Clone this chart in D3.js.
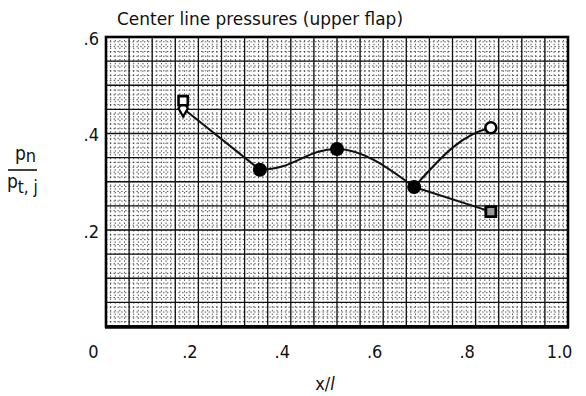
<!DOCTYPE html>
<html>
<head>
<meta charset="utf-8">
<script src="https://cdn.jsdelivr.net/npm/d3@7"></script>
<style>
  html, body { margin: 0; padding: 0; background: #fff; }
  svg { display: block; }
  text { font-family: "Liberation Sans Narrow", "DejaVu Sans Condensed", "Roboto Condensed", "DejaVu Sans", sans-serif; fill: #111; }
</style>
</head>
<body>
<svg id="chart" width="586" height="396"></svg>
<script>
// Stations along the flap centre line (x/l)
const stations = [0.167, 0.333, 0.5, 0.667, 0.833];
// Pressure ratio p_n / p_t,j for the two test conditions
const circleSeries = [0.452, 0.325, 0.368, 0.289, 0.412];
const squareSeries = [0.468, 0.325, 0.368, 0.289, 0.238];
// Axis ticks
const xTicks = [0, 0.2, 0.4, 0.6, 0.8, 1.0];
const xTickLabels = ["0", ".2", ".4", ".6", ".8", "1.0"];
const yTicks = [0.2, 0.4, 0.6];
const yTickLabels = [".2", ".4", ".6"];

const svg = d3.select("#chart");
const x = d3.scaleLinear().domain([0, 1]).range([106, 568]);
const y = d3.scaleLinear().domain([0, 0.6]).range([326.5, 37]);

// Graph-paper background: fine dotted rulings, then solid major rulings
const grid = svg.append("g");
const minorX = d3.range(0, 101).map(i => i / 100);
const minorY = d3.range(0, 61).map(i => i / 100);
grid.selectAll("line.mx").data(minorX).join("line")
  .attr("x1", d => x(d)).attr("x2", d => x(d))
  .attr("y1", y(0)).attr("y2", y(0.6))
  .attr("stroke", "#111").attr("stroke-width", 1)
  .attr("stroke-dasharray", "1.5 2.3").attr("opacity", 0.7);
grid.selectAll("line.my").data(minorY).join("line")
  .attr("y1", d => y(d)).attr("y2", d => y(d))
  .attr("x1", x(0)).attr("x2", x(1))
  .attr("stroke", "#111").attr("stroke-width", 1)
  .attr("stroke-dasharray", "1.5 2.3").attr("opacity", 0.7);

const majorX = d3.range(0, 21).map(i => i * 0.05);
const majorY = d3.range(0, 13).map(i => i * 0.05);
grid.selectAll("line.MX").data(majorX).join("line")
  .attr("x1", d => x(d)).attr("x2", d => x(d))
  .attr("y1", y(0)).attr("y2", y(0.6))
  .attr("stroke", "#111").attr("stroke-width", 1.3);
grid.selectAll("line.MY").data(majorY).join("line")
  .attr("y1", d => y(d)).attr("y2", d => y(d))
  .attr("x1", x(0)).attr("x2", x(1))
  .attr("stroke", "#111").attr("stroke-width", 1.3);

// Frame
svg.append("rect")
  .attr("x", x(0)).attr("y", y(0.6))
  .attr("width", x(1) - x(0)).attr("height", y(0) - y(0.6))
  .attr("fill", "none").attr("stroke", "#000").attr("stroke-width", 2.6);
svg.append("line")
  .attr("x1", x(0) - 1).attr("x2", x(1) + 1)
  .attr("y1", y(0) + 0.5).attr("y2", y(0) + 0.5)
  .attr("stroke", "#000").attr("stroke-width", 3.4);

// Axes
const xAxis = d3.axisBottom(x).tickValues(xTicks).tickSize(0).tickPadding(19)
  .tickFormat((d, i) => xTickLabels[i]);
const gx = svg.append("g").attr("transform", `translate(0,${y(0)})`).call(xAxis);
gx.select(".domain").remove();
gx.selectAll("text").attr("font-size", 18).attr("dx", (d, i) => i === 0 ? -13 : -9)
  .style("font-family", null).attr("fill", "#111");

const yAxis = d3.axisLeft(y).tickValues(yTicks).tickSize(0).tickPadding(7)
  .tickFormat((d, i) => yTickLabels[i]);
const gy = svg.append("g").attr("transform", `translate(${x(0)},0)`).call(yAxis);
gy.select(".domain").remove();
gy.selectAll("text").attr("font-size", 18).attr("dy", "0.4em")
  .style("font-family", null).attr("fill", "#111");

// Title
svg.append("text").attr("x", 117).attr("y", 25)
  .attr("font-size", 17).attr("textLength", 286).attr("lengthAdjust", "spacingAndGlyphs")
  .text("Center line pressures (upper flap)");

// Axis titles
const xt = svg.append("text").attr("x", 325).attr("y", 390)
  .attr("text-anchor", "middle").attr("font-size", 18);
xt.append("tspan").text("x/");
xt.append("tspan").attr("font-style", "italic").text("l");

const yl = svg.append("g");
const num = yl.append("text").attr("x", 15).attr("y", 160).attr("font-size", 19);
num.append("tspan").text("p");
num.append("tspan").attr("font-size", 18).attr("dy", 2).text("n");
yl.append("line").attr("x1", 8).attr("x2", 37).attr("y1", 170).attr("y2", 170)
  .attr("stroke", "#111").attr("stroke-width", 1.6);
const den = yl.append("text").attr("x", 7).attr("y", 188).attr("font-size", 19);
den.append("tspan").text("p");
den.append("tspan").attr("font-size", 17).attr("dy", 5).text("t, j");

// Faired curve through the circle data (shared by both conditions up to the
// fourth station), then the two branches to the last station.
const C = circleSeries.map((v, i) => [x(stations[i]), y(v)]);
const S = squareSeries.map((v, i) => [x(stations[i]), y(v)]);

const main = d3.path();
main.moveTo(C[0][0], C[0][1]);
main.lineTo(C[1][0], C[1][1]);
let dx = C[2][0] - C[1][0];
main.bezierCurveTo(C[1][0] + dx * 0.45, C[1][1], C[2][0] - dx * 0.4, C[2][1], C[2][0], C[2][1]);
dx = C[3][0] - C[2][0];
const dy = C[3][1] - C[2][1];
main.bezierCurveTo(C[2][0] + dx * 0.33, C[2][1], C[3][0] - dx * 0.33, C[3][1] - dy * 0.5, C[3][0], C[3][1]);
// curved recovery to the open circle
dx = C[4][0] - C[3][0];
const dy2 = C[4][1] - C[3][1];
main.bezierCurveTo(C[3][0] + dx * 0.35, C[3][1] + dy2 * 0.5, C[4][0] - dx * 0.4, C[4][1] + 7, C[4][0], C[4][1]);
svg.append("path").attr("d", main.toString())
  .attr("fill", "none").attr("stroke", "#111").attr("stroke-width", 2);

// straight branch to the square
svg.append("path").attr("d", d3.line()([S[3], S[4]]))
  .attr("fill", "none").attr("stroke", "#111").attr("stroke-width", 2);

// Symbols
const marks = svg.append("g");
// first station: square over diamond
marks.append("path")
  .attr("d", d3.symbol(d3.symbolDiamond, 75)())
  .attr("transform", `translate(${C[0][0]},${C[0][1]})`)
  .attr("fill", "#fff").attr("stroke", "#000").attr("stroke-width", 2.2);
marks.append("path")
  .attr("d", d3.symbol(d3.symbolSquare, 85)())
  .attr("transform", `translate(${S[0][0]},${S[0][1]})`)
  .attr("fill", "#fff").attr("stroke", "#000").attr("stroke-width", 2.6);
// coincident points: solid
[1, 2, 3].forEach(i => {
  marks.append("circle")
    .attr("cx", C[i][0]).attr("cy", C[i][1]).attr("r", 7)
    .attr("fill", "#000");
});
// last station: open circle and square
marks.append("circle")
  .attr("cx", C[4][0]).attr("cy", C[4][1]).attr("r", 5.5)
  .attr("fill", "#fff").attr("stroke", "#000").attr("stroke-width", 2.6);
marks.append("path")
  .attr("d", d3.symbol(d3.symbolSquare, 100)())
  .attr("transform", `translate(${S[4][0]},${S[4][1]})`)
  .attr("fill", "#999").attr("stroke", "#000").attr("stroke-width", 2.8);
</script>
</body>
</html>
